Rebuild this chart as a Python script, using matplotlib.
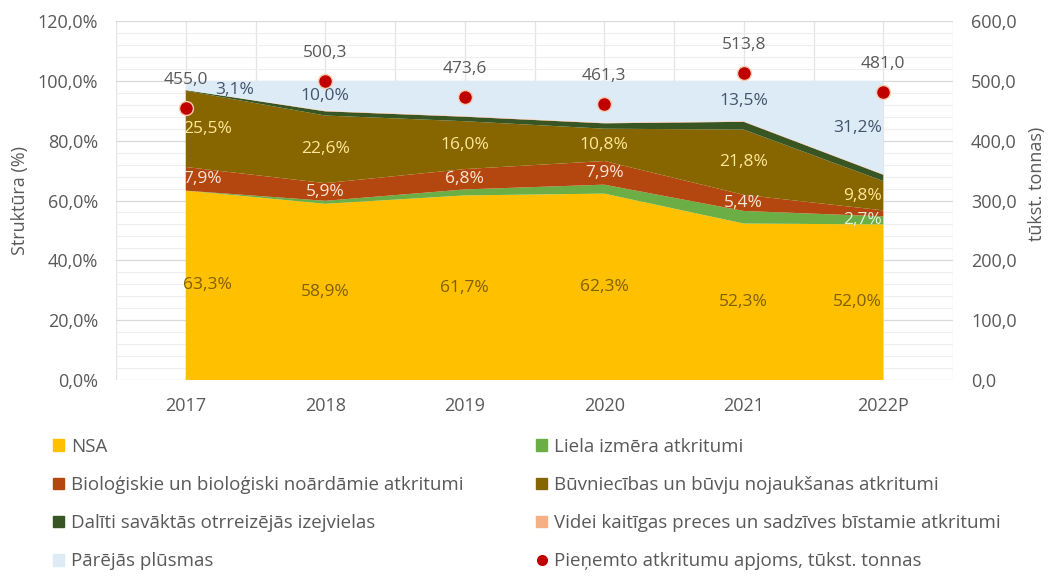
import numpy as np
import matplotlib.pyplot as plt
import matplotlib.ticker as mticker
from matplotlib.patches import Patch
from matplotlib.lines import Line2D

plt.rcParams['font.family'] = ['Open Sans', 'DejaVu Sans']

# data (percent structure, stacked bottom -> top)
years = ['2017', '2018', '2019', '2020', '2021', '2022P']
nsa = [63.3, 58.9, 61.7, 62.3, 52.3, 52.0]
liela = [0.0, 1.0, 2.0, 3.0, 4.2, 2.7]
bio = [7.9, 5.9, 6.8, 7.9, 5.4, 2.0]
buv = [25.5, 22.6, 16.0, 10.8, 21.8, 9.8]
dalits = [0.2, 1.4, 1.5, 1.8, 2.6, 2.1]
videi = [0.0, 0.2, 0.2, 0.2, 0.2, 0.2]
parejas = [3.1, 10.0, 11.8, 14.0, 13.5, 31.2]
apjoms = [455.0, 500.3, 473.6, 461.3, 513.8, 481.0]

names = ['NSA', 'Liela izmēra atkritumi',
         'Bioloģiskie un bioloģiski noārdāmie atkritumi',
         'Būvniecības un būvju nojaukšanas atkritumi',
         'Dalīti savāktās otrreizējās izejvielas',
         'Videi kaitīgas preces un sadzīves bīstamie atkritumi',
         'Pārējās plūsmas']
dot_name = 'Pieņemto atkritumu apjoms, tūkst. tonnas'
colors = ['#FFC000', '#6AAE45', '#B4470F', '#876600', '#375623', '#F4B183', '#DDEBF7']

# which points carry a data label
shown = [
    [1, 1, 1, 1, 1, 1],
    [0, 0, 0, 0, 0, 1],
    [1, 1, 1, 1, 1, 0],
    [1, 1, 1, 1, 1, 1],
    [0, 0, 0, 0, 0, 0],
    [0, 0, 0, 0, 0, 0],
    [1, 1, 0, 0, 1, 1],
]
label_colors = ['#7F6000', '#E2F0D9', '#FBE5D6', '#FFE699', None, None, '#44546A']

grey = '#595959'
series = [nsa, liela, bio, buv, dalits, videi, parejas]
x = np.arange(len(years))

fig = plt.figure(figsize=(10.48, 5.8), dpi=100)
ax = fig.add_axes([116 / 1048, 1 - 380 / 580, 837 / 1048, 359 / 580])
ax.stackplot(x, *series, colors=colors, zorder=2)

ax.set_xlim(-0.5, 5.5)
ax.set_ylim(0, 120)
ax.set_yticks(np.arange(0, 121, 20))
ax.yaxis.set_minor_locator(mticker.MultipleLocator(4))
ax.yaxis.set_major_formatter(mticker.FuncFormatter(lambda v, p: f'{v:.1f}%'.replace('.', ',')))
ax.set_xticks(x)
ax.set_xticklabels(years)
ax.set_xticks(np.arange(-0.5, 5.6, 1), minor=True)
ax.grid(axis='y', which='major', color='#D9D9D9', lw=0.9)
ax.grid(axis='y', which='minor', color='#EEEEEE', lw=0.8)
ax.grid(axis='x', which='both', color='#E4E4E4', lw=0.9)
ax.set_axisbelow(True)
ax.tick_params(which='both', length=0, labelsize=13, labelcolor=grey)
ax.tick_params(axis='y', pad=13)
ax.tick_params(axis='x', pad=12)
for s in ax.spines.values():
    s.set_visible(False)
ax.set_ylabel('Struktūra (%)', fontsize=13, color=grey)
ax.yaxis.set_label_coords(-0.104, 0.5)

# data labels in the middle of each band
base = np.zeros(len(years))
for i, vals in enumerate(series):
    vals = np.array(vals)
    mid = base + vals / 2
    for j in range(len(years)):
        if shown[i][j]:
            xp, ha, yp = x[j], 'center', mid[j]
            if j == 0:
                xp, ha = x[j] - 0.02, 'left'
            if j == len(years) - 1:
                xp, ha = x[j] - 0.01, 'right'
            if i == 6 and j == 0:
                xp, yp = x[j] + 0.21, 97.0
            ax.text(xp, yp, f'{vals[j]:.1f}%'.replace('.', ','), ha=ha, va='center',
                    fontsize=12.5, color=label_colors[i], zorder=5)
    base = base + vals

ax2 = ax.twinx()
ax2.plot(x, apjoms, ls='none', marker='o', ms=10, color='#C00000',
         mec='#F8CBAD', mew=1.0, zorder=6)
ax2.set_ylim(0, 600)
ax2.set_yticks(np.arange(0, 601, 100))
ax2.yaxis.set_major_formatter(mticker.FuncFormatter(lambda v, p: f'{v:.1f}'.replace('.', ',')))
ax2.tick_params(length=0, labelsize=13, labelcolor=grey, pad=13)
for s in ax2.spines.values():
    s.set_visible(False)
for xi, v in zip(x, apjoms):
    ax2.annotate(f'{v:.1f}'.replace('.', ','), (xi, v), xytext=(0, 20), textcoords='offset points',
                 ha='center', va='center', fontsize=12.5, color=grey)
ax2.set_ylabel('tūkst. tonnas)', fontsize=13, color=grey, rotation=90)
ax2.yaxis.set_label_coords(1.090, 0.546)

# legend, two columns filled row by row
handles = [Patch(color=c) for c in colors]
dot = Line2D([], [], ls='none', marker='o', ms=7, color='#C00000')
col1 = [(handles[0], names[0]), (handles[2], names[2]), (handles[4], names[4]), (handles[6], names[6])]
col2 = [(handles[1], names[1]), (handles[3], names[3]), (handles[5], names[5]), (dot, dot_name)]
for cx, col in [(53, col1), (536, col2)]:
    fig.legend([h for h, _ in col], [n for _, n in col], loc='upper left',
               bbox_to_anchor=(cx / 1048, 1 - 438 / 580), frameon=False,
               fontsize=13.5, labelcolor=grey, handlelength=0.6, handleheight=0.6,
               handletextpad=0.35, labelspacing=1.07, borderpad=0, borderaxespad=0)

fig.savefig('out.png', dpi=100)
